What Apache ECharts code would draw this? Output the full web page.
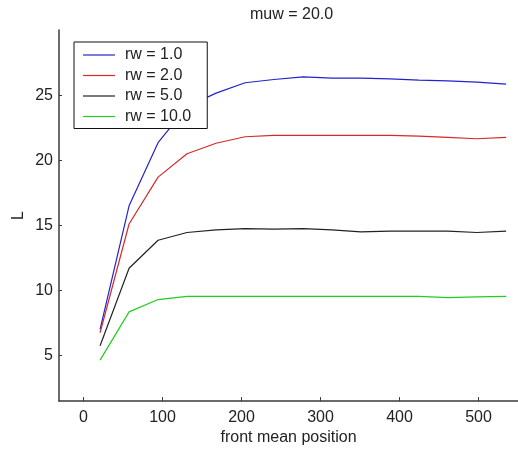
<!DOCTYPE html>
<html>
<head>
<meta charset="utf-8">
<script src="https://cdn.jsdelivr.net/npm/echarts@6/dist/echarts.min.js"></script>
<style>
html,body{margin:0;padding:0;background:#fff;}
#chart{width:518px;height:451px;}
</style>
</head>
<body>
<div id="chart"></div>
<script>
var titleText = 'muw = 20.0';
var xName = 'front mean position';
var yName = 'L';
var xPositions = [21, 57.7, 94.4, 131, 167.8, 204.5, 241, 278, 314.6, 351, 388, 424.7, 461, 498, 535];
var seriesNames = ['rw = 1.0', 'rw = 2.0', 'rw = 5.0', 'rw = 10.0'];
var rw1 = [7.0, 16.5, 21.35, 24.1, 25.15, 25.95, 26.2, 26.4, 26.3, 26.3, 26.25, 26.15, 26.1, 26.0, 25.85];
var rw2 = [6.75, 15.1, 18.7, 20.5, 21.3, 21.8, 21.9, 21.9, 21.9, 21.9, 21.9, 21.85, 21.75, 21.65, 21.75];
var rw5 = [5.75, 11.7, 13.85, 14.45, 14.65, 14.75, 14.7, 14.75, 14.65, 14.5, 14.55, 14.55, 14.55, 14.45, 14.55];
var rw10 = [4.65, 8.35, 9.3, 9.55, 9.55, 9.55, 9.55, 9.55, 9.55, 9.55, 9.55, 9.55, 9.45, 9.5, 9.55];
var xTicks = [0, 100, 200, 300, 400, 500];
var yTicks = [5, 10, 15, 20, 25];
var colors = ['#2323cc', '#d42a2a', '#222222', '#22cc22'];

function pairs(ys) { return xPositions.map(function (x, i) { return [x, ys[i]]; }); }
var allValues = [rw1, rw2, rw5, rw10];

var font = 'Liberation Sans, Arial, sans-serif';
var chart = echarts.init(document.getElementById('chart'), null, {renderer: 'canvas'});
chart.setOption({
  animation: false,
  backgroundColor: '#ffffff',
  title: {
    text: titleText, left: 250, top: 7, padding: 0,
    textStyle: {fontFamily: font, fontSize: 16, fontWeight: 'normal', color: '#222'}
  },
  grid: {left: 59, top: 30, width: 459, height: 373, containLabel: false},
  legend: {
    orient: 'vertical', left: 74, top: 42,
    backgroundColor: '#ffffff', borderColor: '#111', borderWidth: 1,
    padding: [3, 16, 2, 9],
    icon: 'rect',
    itemWidth: 32, itemHeight: 1.2, itemGap: 0.5,
    textStyle: {fontFamily: font, fontSize: 16, color: '#222', lineHeight: 20, padding: [0, 0, 0, 5]},
    data: seriesNames
  },
  xAxis: {
    type: 'value', min: -31, max: 550,
    name: xName, nameLocation: 'middle', nameGap: 27,
    nameTextStyle: {fontFamily: font, fontSize: 16, color: '#222'},
    axisLine: {show: true, onZero: false, lineStyle: {color: '#3a3a3a', width: 1.5}},
    axisTick: {show: true, inside: true, length: 4, customValues: xTicks, lineStyle: {color: '#3a3a3a'}},
    axisLabel: {customValues: xTicks, margin: 8, fontFamily: font, fontSize: 16, color: '#222'},
    splitLine: {show: false}
  },
  yAxis: {
    type: 'value', min: 1.5, max: 30,
    name: yName, nameLocation: 'middle', nameGap: 32, nameRotate: 90,
    nameMoveOverlap: false,
    nameTextStyle: {fontFamily: font, fontSize: 16, color: '#222'},
    axisLine: {show: true, onZero: false, lineStyle: {color: '#3a3a3a', width: 1.5}},
    axisTick: {show: true, inside: true, length: 3, customValues: yTicks, lineStyle: {color: '#3a3a3a'}},
    axisLabel: {customValues: yTicks, margin: 6, fontFamily: font, fontSize: 16, color: '#222'},
    splitLine: {show: false}
  },
  series: seriesNames.map(function (n, i) {
    return {
      name: n, type: 'line', data: pairs(allValues[i]),
      symbol: 'none', showSymbol: false,
      color: colors[i],
      lineStyle: {color: colors[i], width: 1.2},
      z: 2
    };
  })
});
</script>
</body>
</html>
